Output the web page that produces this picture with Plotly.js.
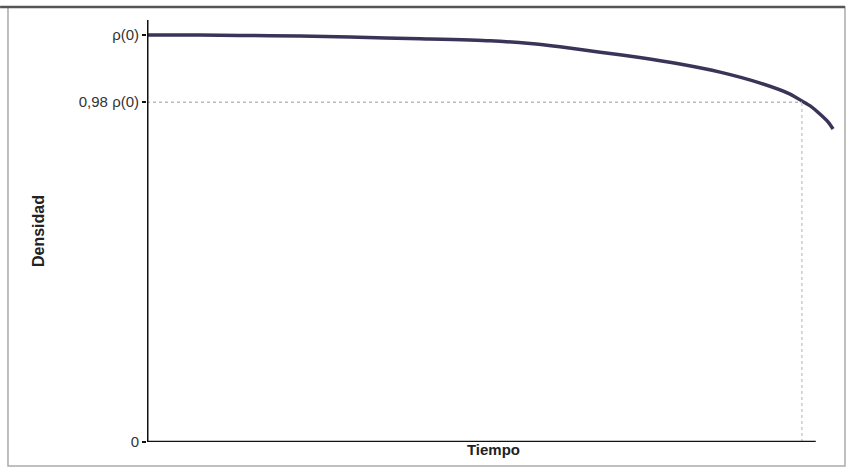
<!DOCTYPE html>
<html>
<head>
<meta charset="utf-8">
<script src="https://cdn.plot.ly/plotly-3.0.1.min.js"></script>
<style>html,body{margin:0;padding:0;background:#fff;}#chart{width:850px;height:470px;}</style>
</head>
<body>
<div id="chart"></div>
<script>
// Schematic density curve (display units: rho(0) = 100, 0.98 rho(0) drawn at 83.5)
const tiempo = [0, 7.6, 13.4, 22.1, 29.3, 39.4, 49.5, 55.3, 59.6, 65.4, 71.1, 76.9, 82.7, 88.5, 92.8, 94.5, 95.7, 97.1, 98.3, 99.0];
const densidad = [100, 100, 99.9, 99.75, 99.5, 99.1, 98.6, 97.9, 97.1, 95.8, 94.5, 92.9, 90.9, 88.2, 85.5, 83.8, 82.6, 80.6, 78.6, 76.9];
const tickVals = [0, 83.5, 100];
const tickText = ['0', '0,98 \u03c1(0)', '\u03c1(0)'];
const nivel98 = 83.5;
const tCruce = 94.5;
const ejeXFin = 96.5;
const yMax = 103.7;

const trace = {
  x: tiempo, y: densidad, type: 'scatter', mode: 'lines',
  line: {color: '#3b3358', width: 3.5, shape: 'spline', smoothing: 0.6},
  hoverinfo: 'skip', showlegend: false
};

const layout = {
  width: 850, height: 470,
  margin: {l: 147, r: 10, t: 20, b: 28},
  paper_bgcolor: '#fff', plot_bgcolor: '#fff',
  font: {family: 'Liberation Sans, Arial, sans-serif', size: 15, color: '#333'},
  xaxis: {
    range: [0, 100], showgrid: false, zeroline: false, showline: false,
    showticklabels: false, ticks: '',
    title: {text: 'Tiempo', font: {size: 15, color: '#222', weight: 'bold'}, standoff: 2}
  },
  yaxis: {
    range: [0, yMax], showgrid: false, zeroline: false, showline: false,
    tickmode: 'array', tickvals: tickVals, ticktext: tickText,
    ticks: 'outside', ticklen: 4, tickwidth: 2, tickcolor: '#111',
    tickfont: {size: 15, color: '#333'},
    title: {text: 'Densidad', font: {size: 16, color: '#222', weight: 'bold'}, standoff: 30}
  },
  shapes: [
    {type: 'line', xref: 'x', yref: 'y', x0: 0, x1: tCruce, y0: nivel98, y1: nivel98,
     line: {color: '#bbbbbb', width: 1.5, dash: 'dot'}},
    {type: 'line', xref: 'x', yref: 'y', x0: tCruce, x1: tCruce, y0: 0, y1: nivel98,
     line: {color: '#cccccc', width: 1.5, dash: 'dot'}},
    {type: 'line', xref: 'x', yref: 'y', x0: 0, x1: 0, y0: 0, y1: yMax,
     line: {color: '#111', width: 3}},
    {type: 'line', xref: 'x', yref: 'y', x0: 0, x1: ejeXFin, y0: 0, y1: 0,
     line: {color: '#111', width: 2.5}},
    {type: 'rect', xref: 'paper', yref: 'paper', x0: -0.2006, x1: 1.0072, y0: -0.0569, y1: 1.0308,
     line: {color: '#aaaaaa', width: 1.5}},
    {type: 'line', xref: 'paper', yref: 'paper', x0: -0.2120, x1: 1.0072, y0: 1.0308, y1: 1.0308,
     line: {color: '#555555', width: 2.5}}
  ]
};

Plotly.newPlot('chart', [trace], layout, {displayModeBar: false, staticPlot: true});
</script>
</body>
</html>
